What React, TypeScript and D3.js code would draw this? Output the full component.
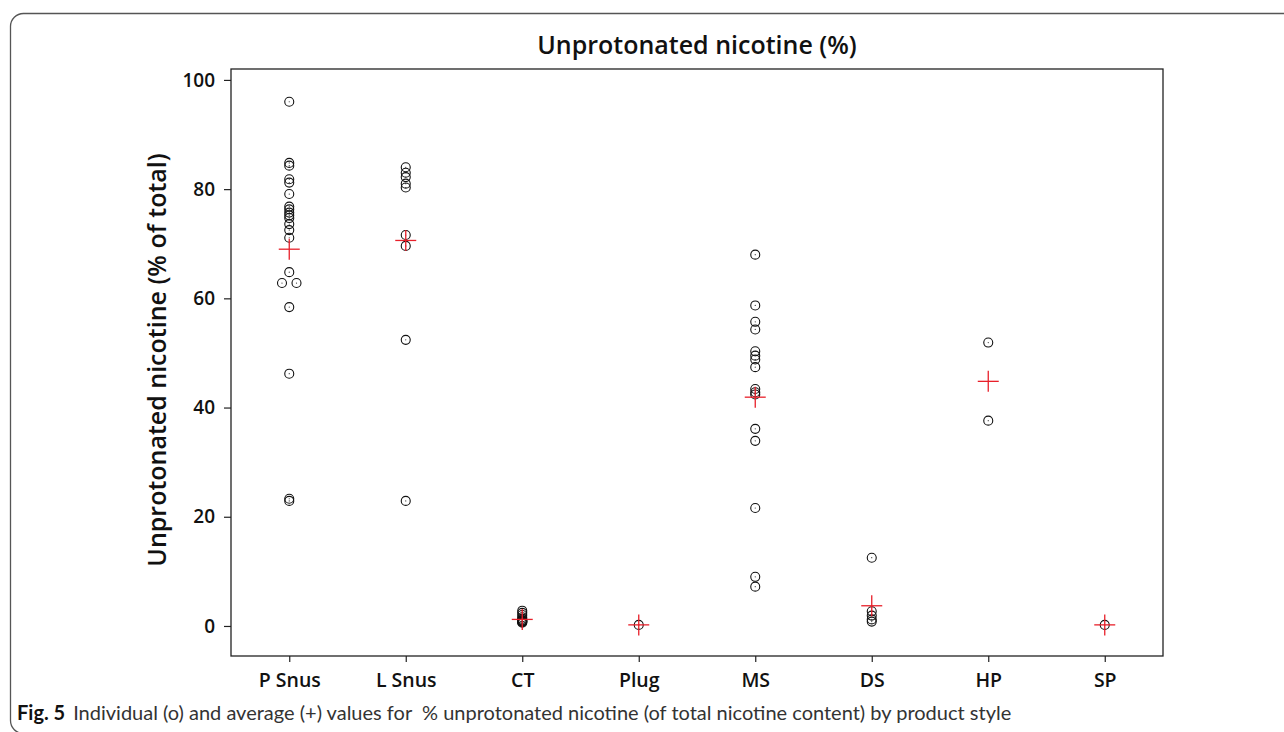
import React, { useEffect, useRef } from 'react';
import * as d3 from 'd3';

const categories = ['P Snus', 'L Snus', 'CT', 'Plug', 'MS', 'DS', 'HP', 'SP'];

// individual values per product style (% unprotonated nicotine)
const pSnus = [96.0, 84.8, 84.3, 81.8, 81.2, 79.1, 76.8, 76.3, 75.7, 75.2, 74.7, 73.6, 72.5, 71.1, 64.8, 62.8, 62.8, 58.4, 46.2, 23.3, 22.9];
const lSnus = [84.0, 83.0, 82.2, 81.0, 80.3, 71.6, 69.6, 52.4, 22.9];
const ct = [2.8, 2.4, 2.0, 1.6, 1.3, 1.1, 1.0, 0.9, 0.85, 0.8, 0.7, 0.6];
const plug = [0.2];
const ms = [68.0, 58.7, 55.7, 54.3, 50.3, 49.5, 48.8, 47.4, 43.4, 42.8, 42.4, 36.1, 33.9, 21.6, 9.0, 7.2];
const ds = [12.5, 2.7, 1.9, 1.2, 0.8];
const hp = [51.9, 37.6];
const sp = [0.2];

const individualValues = [pSnus, lSnus, ct, plug, ms, ds, hp, sp];
const averageValues = [69.0, 70.6, 1.2, 0.2, 41.9, 3.7, 44.8, 0.2];

const yTicks = [0, 20, 40, 60, 80, 100];

const width = 1284;
const height = 732;
const plot = { left: 231, right: 1163, top: 69, bottom: 656 };

const chartFont = '"Open Sans", "DejaVu Sans", sans-serif';
const captionFont = 'Lato, "Open Sans", sans-serif';

const x = d3.scalePoint<string>().domain(categories).range([plot.left, plot.right]).padding(0.5);
const y = d3.scaleLinear().domain([-5.5, 102]).range([plot.bottom, plot.top]);

// spread identical values side by side so both circles stay visible
const points = categories.flatMap((cat, ci) => {
  const vals = individualValues[ci];
  return vals.map((v, i) => {
    const same = vals.filter(w => w === v).length;
    const rank = vals.slice(0, i).filter(w => w === v).length;
    return { cat, v, dx: (rank - (same - 1) / 2) * 14.5, key: `${cat}-${i}` };
  });
});

export default function App() {
  const xAxisRef = useRef<SVGGElement>(null);
  const yAxisRef = useRef<SVGGElement>(null);

  useEffect(() => {
    const xa = d3.select(xAxisRef.current!);
    xa.call(d3.axisBottom(x).tickSize(6).tickPadding(11) as any);
    xa.select('.domain').remove();
    xa.selectAll('line').attr('stroke', '#222').attr('stroke-width', 1.2);
    xa.selectAll('text')
      .attr('font-family', chartFont)
      .attr('font-size', 19.5)
      .attr('font-weight', 600)
      .attr('fill', '#111');

    const ya = d3.select(yAxisRef.current!);
    ya.call(d3.axisLeft(y).tickValues(yTicks).tickSize(7).tickPadding(9) as any);
    ya.select('.domain').remove();
    ya.selectAll('line').attr('stroke', '#222').attr('stroke-width', 1.2);
    ya.selectAll('text')
      .attr('font-family', chartFont)
      .attr('font-size', 19)
      .attr('font-weight', 600)
      .attr('fill', '#111');
  }, []);

  return (
    <svg
      width={width}
      height={height}
      style={{ position: 'absolute', left: 0, top: 0, background: '#fff' }}
    >
      <rect x={10.5} y={13.5} width={1400} height={720} rx={13} fill="none" stroke="#555" strokeWidth={1.3} />

      <text
        x={(plot.left + plot.right) / 2}
        y={54}
        textAnchor="middle"
        fontFamily={chartFont}
        fontSize={25}
        fontWeight={600}
        fill="#111"
      >
        Unprotonated nicotine (%)
      </text>

      <text
        transform={`translate(166, 360) rotate(-90)`}
        textAnchor="middle"
        fontFamily={chartFont}
        fontSize={25}
        fontWeight={600}
        fill="#111"
      >
        Unprotonated nicotine (% of total)
      </text>

      <rect
        x={plot.left}
        y={plot.top}
        width={plot.right - plot.left}
        height={plot.bottom - plot.top}
        fill="none"
        stroke="#222"
        strokeWidth={1.3}
      />

      <g ref={xAxisRef} transform={`translate(0, ${plot.bottom})`} />
      <g ref={yAxisRef} transform={`translate(${plot.left}, 0)`} />

      {points.map(p => {
        const cx = (x(p.cat) as number) + p.dx;
        const cy = y(p.v);
        return (
          <g key={p.key}>
            <circle cx={cx} cy={cy} r={4.5} fill="none" stroke="#111" strokeWidth={1.1} />
            <circle cx={cx} cy={cy} r={0.6} fill="#333" />
          </g>
        );
      })}

      {averageValues.map((v, i) => {
        const cx = x(categories[i]) as number;
        const cy = y(v);
        return (
          <g key={`avg-${i}`} stroke="#e8202a" strokeWidth={1.3}>
            <line x1={cx - 10.5} x2={cx + 10.5} y1={cy} y2={cy} />
            <line x1={cx} x2={cx} y1={cy - 10.5} y2={cy + 10.5} />
          </g>
        );
      })}

      <text x={17} y={720} fontFamily={captionFont} fontSize={20} fill="#333">
        <tspan fontWeight={700} fill="#111">Fig. 5</tspan>
        <tspan dx={8}>{'Individual (o) and average (+) values for\u00a0 % unprotonated nicotine (of total nicotine content) by product style'}</tspan>
      </text>
    </svg>
  );
}
